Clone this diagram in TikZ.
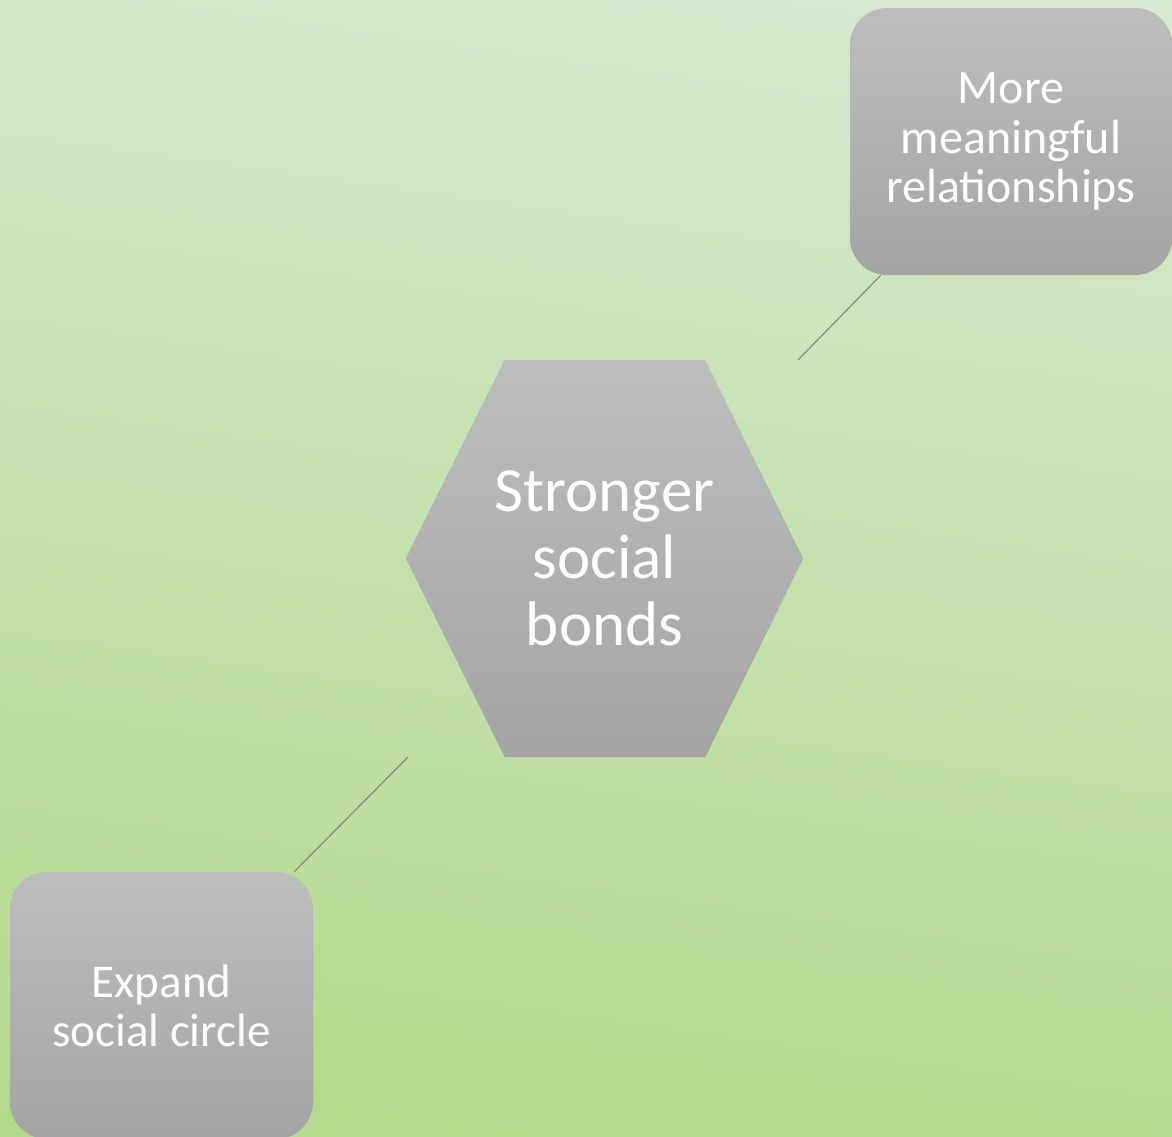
\documentclass[tikz,border=0pt]{standalone}
\usepackage{fontspec}
\setmainfont{Carlito}
\definecolor{bgtop}{HTML}{D8E8D0}
\definecolor{bgbot}{HTML}{B2D98B}
\definecolor{boxtop}{HTML}{BDBDBD}
\definecolor{boxbot}{HTML}{A4A4A4}
\definecolor{connc}{HTML}{7F7F7F}
\tikzset{
  greybox/.style={rounded corners=37pt, top color=boxtop, bottom color=boxbot, draw=none,
    text=white, align=center, inner sep=0pt},
  conn/.style={draw=connc, line width=1pt},
}
\begin{document}
\begin{tikzpicture}[x=1pt,y=-1pt]
\useasboundingbox (0,0) rectangle (1172,1136);
\clip (0,0) rectangle (1172,1136);
\shade[top color=bgtop, bottom color=bgbot, shading angle=-8] (-60,-60) rectangle (1232,1196);
% hexagon bounding node
\node[minimum width=397pt, minimum height=397pt, inner sep=0pt] (hex) at (604.5,558.5) {};
\shade[top color=boxtop, bottom color=boxbot]
  ([xshift=99pt]hex.north west) -- ([xshift=-98pt]hex.north east) -- (hex.east)
  -- ([xshift=-98pt]hex.south east) -- ([xshift=99pt]hex.south west) -- (hex.west) -- cycle;
\node[text=white, align=center, font=\fontsize{63}{67}\selectfont] (hextext) at (hex.center) {Stronger\\social\\bonds};
% boxes
\node[greybox, minimum width=322pt, minimum height=267pt, font=\fontsize{48}{49.5}\selectfont] (more) at (1011,141.5) {More\\meaningful\\relationships};
\node[greybox, minimum width=303pt, minimum height=267pt, font=\fontsize{47}{49}\selectfont] (expand) at (161.5,1005.5) {Expand\\social circle};
% connectors
\draw[conn] ([xshift=-5pt]hex.north east) -- ([xshift=31pt]more.south west);
\draw[conn] ([xshift=2pt]hex.south west) -- ([xshift=-19pt]expand.north east);
\end{tikzpicture}
\end{document}
